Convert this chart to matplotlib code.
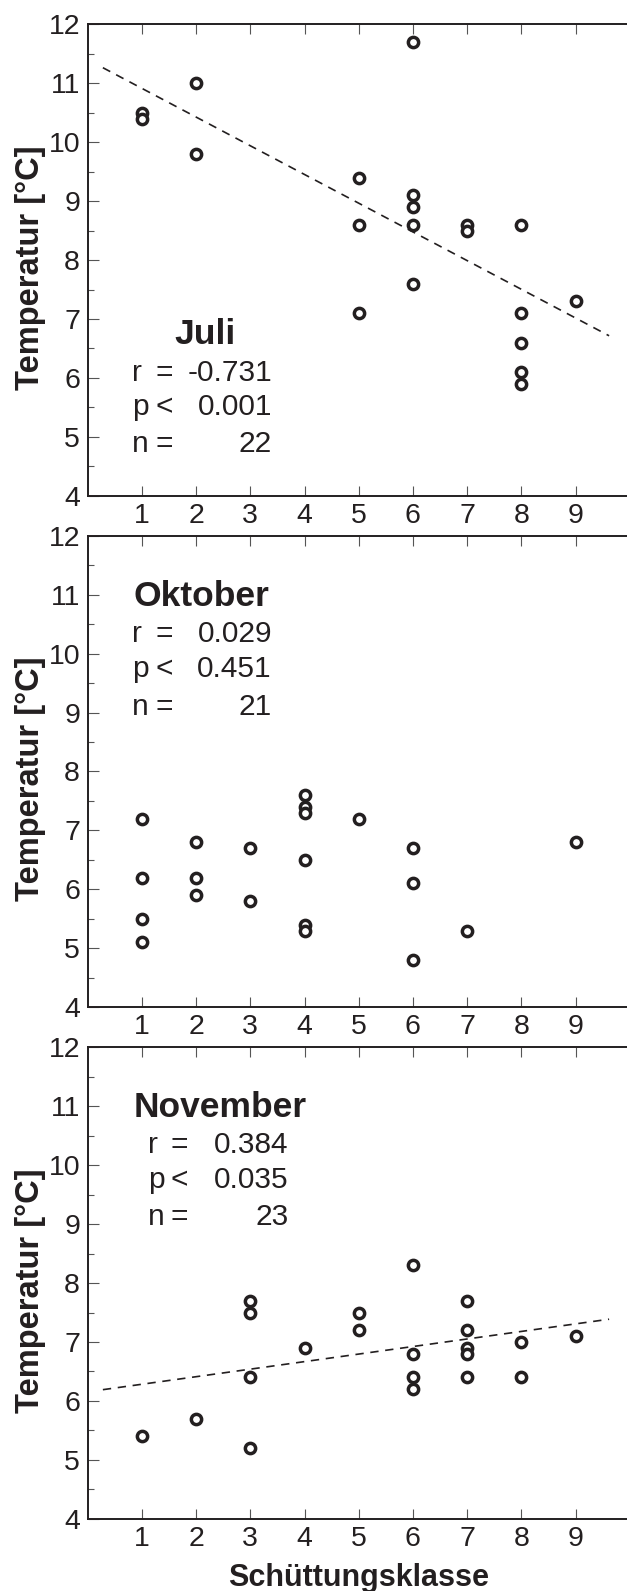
import numpy as np
import matplotlib
matplotlib.use("Agg")
import matplotlib.pyplot as plt

plt.rcParams['font.family'] = ['Liberation Sans', 'DejaVu Sans']

# ---------------- data ----------------
juli_x = [1, 1, 2, 2, 5, 5, 5, 6, 6, 6, 6, 6, 7, 7, 8, 8, 8, 8, 8, 9]
juli_y = [10.5, 10.4, 11.0, 9.8, 9.4, 8.6, 7.1, 11.7, 9.1, 8.9, 8.6, 7.6,
          8.6, 8.5, 8.6, 7.1, 6.6, 6.1, 5.9, 7.3]

okt_x = [1, 1, 1, 1, 2, 2, 2, 3, 3, 4, 4, 4, 4, 4, 4, 5, 6, 6, 6, 7, 9]
okt_y = [7.2, 6.2, 5.5, 5.1, 6.8, 6.2, 5.9, 6.7, 5.8, 7.6, 7.4, 7.3, 6.5,
         5.4, 5.3, 7.2, 6.7, 6.1, 4.8, 5.3, 6.8]

nov_x = [1, 2, 3, 3, 3, 3, 4, 5, 5, 6, 6, 6, 6, 7, 7, 7, 7, 7, 8, 8, 9]
nov_y = [5.4, 5.7, 7.7, 7.5, 6.4, 5.2, 6.9, 7.5, 7.2, 8.3, 6.8, 6.4, 6.2,
         7.7, 7.2, 6.9, 6.8, 6.4, 7.0, 6.4, 7.1]

months = ['Juli', 'Oktober', 'November']
r_vals = ['-0.731', '0.029', '0.384']
p_vals = ['0.001', '0.451', '0.035']
n_vals = ['22', '21', '23']

# regression lines (slope, intercept), None = no line
trend_params = [(-0.487, 11.40), None, (0.128, 6.155)]
trend_range = [0.28, 9.62]

x_ticks = [1, 2, 3, 4, 5, 6, 7, 8, 9]
y_ticks = [4, 5, 6, 7, 8, 9, 10, 11, 12]

# ---------------- layout ----------------
W, H = 627, 1591
fig = plt.figure(figsize=(W / 100, H / 100), dpi=100)

left = 87.7 / W
width = 542 / W
tops = [24.3, 535.7, 1047.3]
ph = 471.5

ink = '#231f20'
tickc = '#555555'

data_sets = [(juli_x, juli_y), (okt_x, okt_y), (nov_x, nov_y)]

# text layout per panel: title (x, y, ha), line ys, col xs
title_layout = [(2.17, 6.57, 'center'), (0.84, 10.81, 'left'),
                (0.84, 10.82, 'left')]
line_ys = [(5.947, 5.37, 4.747), (10.20, 9.60, 8.96), (10.20, 9.61, 8.99)]
col_xs = [(0.812, 1.242, 3.40), (0.812, 1.242, 3.40), (1.118, 1.519, 3.71)]

for i, (xs, ys) in enumerate(data_sets):
    bottom = 1 - (tops[i] + ph) / H
    ax = fig.add_axes([left, bottom, width, ph / H])
    ax.set_xlim(0, 10)
    ax.set_ylim(4, 12)

    ax.plot(xs, ys, linestyle='none', marker='o', ms=7.4, mew=2.5,
            mfc='white', mec=ink, zorder=3)

    if trend_params[i] is not None:
        s, b = trend_params[i]
        tx = np.array(trend_range)
        ax.plot(tx, b + s * tx, color=ink, lw=1.2, linestyle=(0, (5, 4)),
                zorder=2)

    ax.set_xticks(x_ticks)
    ax.set_yticks(y_ticks)
    ax.set_yticks(np.arange(4.5, 12, 1.0), minor=True)
    ax.tick_params(axis='x', which='major', direction='in', length=7.2,
                   width=0.8, color=tickc, top=True, labelsize=20.5, pad=5,
                   labelcolor=ink)
    ax.tick_params(axis='y', which='major', direction='in', length=8,
                   width=0.8, color=tickc, labelsize=20.5, pad=5.5,
                   labelcolor=ink)
    ax.tick_params(axis='y', which='minor', direction='in', length=4.3,
                   width=0.8, color=tickc)
    ax.tick_params(axis='x', which='minor', bottom=False, top=False)
    for sp in ['left', 'top', 'bottom']:
        ax.spines[sp].set_linewidth(1.4)
        ax.spines[sp].set_color(ink)
    ax.spines['right'].set_visible(False)

    ax.set_ylabel('Temperatur [°C]', fontsize=23.5, fontweight='bold',
                  color=ink, va='center')
    ax.yaxis.set_label_coords(-0.106, 0.484)

    tx_, ty_, tha = title_layout[i]
    ax.text(tx_, ty_, months[i], fontsize=25.5, fontweight='bold', ha=tha,
            va='baseline', color=ink)
    cl, cs, cn = col_xs[i]
    labels = [('r', '=', r_vals[i]), ('p', '<', p_vals[i]),
              ('n', '=', n_vals[i])]
    for (a, sym, val), yy in zip(labels, line_ys[i]):
        ax.text(cl, yy, a, fontsize=21.5, ha='left', va='baseline', color=ink)
        ax.text(cs, yy, sym, fontsize=21.5, ha='left', va='baseline', color=ink)
        ax.text(cn, yy, val, fontsize=21.5, ha='right', va='baseline', color=ink)

    if i == 2:
        ax.set_xlabel('Schüttungsklasse', fontsize=22, fontweight='bold',
                      color=ink, va='baseline')
        ax.xaxis.set_label_coords(0.5, -(1586 - 1519) / ph)

fig.savefig('out.png', dpi=100)
